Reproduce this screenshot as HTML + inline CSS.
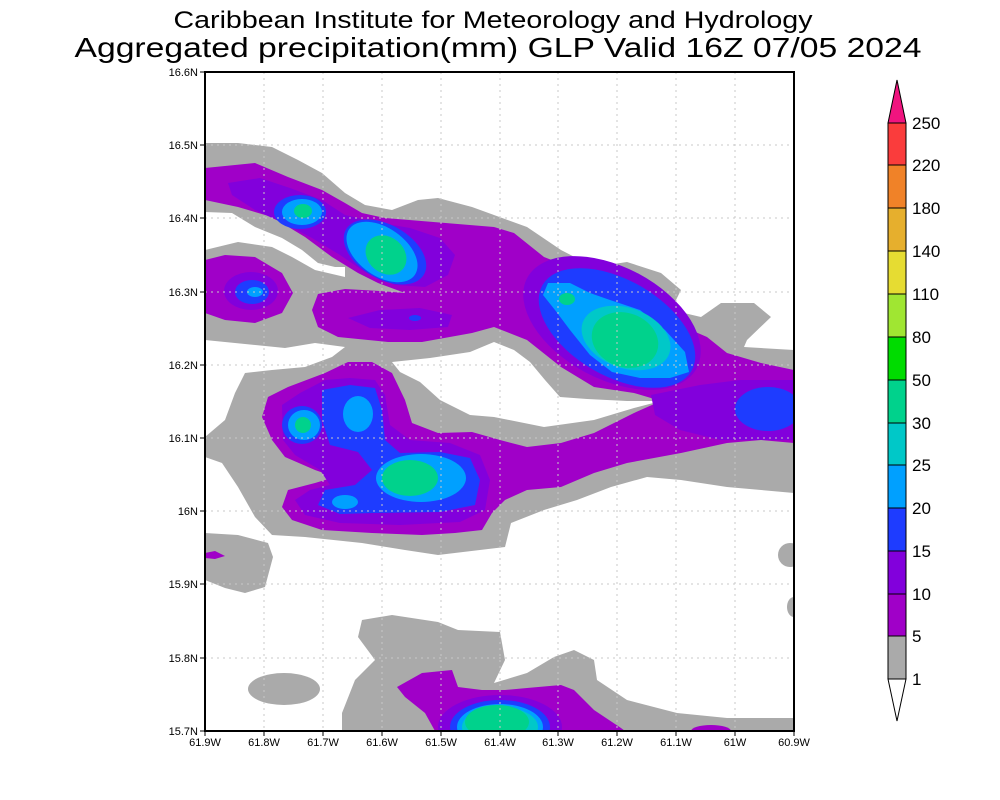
<!DOCTYPE html>
<html><head><meta charset="utf-8"><style>
html,body{margin:0;padding:0;background:#fff;}
svg{display:block;font-family:"Liberation Sans",sans-serif;}
</style></head><body>
<svg width="1000" height="800" viewBox="0 0 1000 800" xmlns="http://www.w3.org/2000/svg">
<defs><clipPath id="pc"><rect x="205" y="72" width="589" height="659"/></clipPath></defs>
<rect width="1000" height="800" fill="#fff"/>
<text x="493" y="28" font-size="24" text-anchor="middle" textLength="639" lengthAdjust="spacingAndGlyphs">Caribbean Institute for Meteorology and Hydrology</text>
<text x="498" y="57" font-size="28" text-anchor="middle" textLength="847" lengthAdjust="spacingAndGlyphs">Aggregated precipitation(mm) GLP Valid 16Z 07/05 2024</text>
<g clip-path="url(#pc)" stroke-linejoin="round">
<g fill="#aaaaaa">
<path d="M205,143 L238,143 272,147 298,160 322,173 345,193 365,205 392,210 418,200 438,198 472,207 494,215 527,227 561,250 594,267 627,262 661,273 681,290 671,310 701,317 721,303 754,303 771,317 747,340 744,347 794,350 794,493 761,490 727,487 681,480 647,477 611,487 577,500 544,510 511,523 505,547 438,555 405,550 362,543 305,537 272,535 255,517 238,487 222,463 205,457 Z"/>
<path d="M342,731 L342,713 355,680 375,660 358,637 362,620 392,615 438,622 458,630 500,632 505,660 494,683 527,673 554,657 574,650 594,660 597,680 627,700 677,713 727,718 794,718 794,731 Z"/>
<path d="M205,533 L238,535 268,543 273,557 265,587 245,593 225,588 205,580 Z"/>
<ellipse cx="284" cy="689" rx="36" ry="16"/>
<ellipse cx="790" cy="555" rx="12" ry="12"/>
<ellipse cx="794" cy="607" rx="7" ry="10"/>
</g>
<g fill="#fff">
<path d="M205,212 L232,213 255,227 282,238 302,250 318,263 335,267 345,267 345,277 315,270 292,257 272,247 238,242 205,250 Z"/>
<path d="M205,340 L285,348 315,343 345,347 332,357 305,367 272,370 245,373 235,393 225,420 205,437 Z"/>
<path d="M392,362 L430,358 470,352 494,342 514,350 530,362 545,380 560,397 587,399 627,401 661,401 634,408 594,420 544,427 494,417 470,415 440,400 420,382 400,372 Z"/>
</g>
<g fill="#a000c8">
<path d="M205,168 L255,163 288,177 322,190 345,203 362,213 385,218 494,227 514,233 544,257 577,270 617,287 644,297 667,317 684,327 707,337 727,353 761,363 794,370 794,443 761,440 727,443 681,453 627,463 594,473 561,487 527,490 505,500 492,513 482,530 455,533 422,535 372,533 322,530 292,520 282,507 288,490 315,483 335,477 315,470 285,457 272,440 262,417 268,397 288,387 325,373 348,362 372,362 392,373 405,400 412,423 438,433 472,432 500,440 527,447 561,443 594,433 634,413 661,401 634,393 594,387 561,367 527,340 494,327 472,333 422,342 388,342 338,337 318,327 312,310 318,294 345,289 380,291 405,293 378,283 358,273 332,257 305,237 272,217 238,207 205,200 Z"/>
<path d="M205,260 L225,255 255,257 282,273 293,293 282,313 255,323 225,320 205,313 Z"/>
<path d="M205,553 L215,551 225,556 215,559 205,558 Z"/>
<path d="M397,687 L422,673 452,670 458,687 482,690 505,690 527,688 561,685 574,690 594,710 621,728 625,731 435,731 425,713 405,697 Z"/>
<ellipse cx="711" cy="731" rx="20" ry="6"/>
</g>
<g fill="#8200dc">
<path d="M228,183 L260,178 290,188 322,200 345,215 375,222 410,228 440,238 455,255 448,275 425,287 395,285 365,272 340,255 312,238 285,224 255,210 232,195 Z"/>
<path d="M348,318 L380,310 420,308 452,315 448,327 410,330 370,328 Z"/>
<ellipse cx="251" cy="291" rx="27" ry="19"/>
<ellipse cx="612" cy="323" rx="96" ry="56" transform="rotate(28 612 323)"/>
<path d="M651,395 L700,385 740,380 794,380 794,440 760,440 720,440 680,430 655,415 Z"/>
<path d="M282,405 L300,393 325,380 350,378 375,380 385,395 390,425 410,440 450,443 480,455 490,480 485,510 460,522 400,525 340,523 305,515 295,500 310,490 330,485 320,470 295,455 283,440 Z"/>
<ellipse cx="500" cy="727" rx="62" ry="32"/>
</g>
<g fill="#1e3cff">
<ellipse cx="300" cy="212" rx="26" ry="17"/>
<ellipse cx="385" cy="252" rx="45" ry="27" transform="rotate(30 385 252)"/>
<ellipse cx="415" cy="318" rx="6" ry="3"/>
<ellipse cx="252" cy="292" rx="17" ry="12"/>
<ellipse cx="617" cy="328" rx="86" ry="48" transform="rotate(30 617 328)"/>
<ellipse cx="768" cy="409" rx="33" ry="22"/>
<ellipse cx="302" cy="425" rx="20" ry="19"/>
<path d="M322,390 L350,385 375,388 382,410 385,440 400,453 440,452 470,458 480,480 475,505 440,512 372,513 340,514 318,505 325,490 355,485 372,470 358,452 330,445 322,420 Z"/>
<ellipse cx="500" cy="727" rx="50" ry="27"/>
</g>
<g fill="#00a0ff">
<ellipse cx="302" cy="212" rx="20" ry="13"/>
<ellipse cx="382" cy="252" rx="40" ry="24" transform="rotate(35 382 252)"/>
<ellipse cx="255" cy="292" rx="8" ry="5"/>
<path d="M548,283 L570,283 590,293 610,300 640,310 665,330 685,352 689,372 670,378 640,378 612,372 590,355 570,330 555,310 543,295 Z"/>
<ellipse cx="304" cy="425" rx="16" ry="15"/>
<ellipse cx="358" cy="414" rx="15" ry="18"/>
<ellipse cx="421" cy="478" rx="45" ry="24"/>
<ellipse cx="345" cy="502" rx="13" ry="7"/>
<ellipse cx="500" cy="727" rx="43" ry="23"/>
</g>
<g fill="#00c8c8">
<ellipse cx="626" cy="338" rx="46" ry="30" transform="rotate(20 626 338)"/>
<ellipse cx="500" cy="727" rx="38" ry="20"/>
</g>
<g fill="#00d28c">
<ellipse cx="303" cy="211" rx="9" ry="7"/>
<ellipse cx="386" cy="255" rx="22" ry="18" transform="rotate(40 386 255)"/>
<ellipse cx="567" cy="299" rx="8" ry="6"/>
<ellipse cx="625" cy="340" rx="34" ry="27" transform="rotate(20 625 340)"/>
<ellipse cx="303" cy="425" rx="8" ry="8"/>
<ellipse cx="410" cy="478" rx="28" ry="18"/>
<ellipse cx="497" cy="722" rx="32" ry="17"/>
</g>
</g>
<g stroke="#c8c8c8" stroke-width="1" stroke-dasharray="2,4" fill="none">
<path d="M264,72V731M323,72V731M382,72V731M441,72V731M500,72V731M558,72V731M617,72V731M676,72V731M735,72V731"/>
<path d="M205,145H794M205,218H794M205,292H794M205,365H794M205,438H794M205,511H794M205,584H794M205,658H794"/>
</g>
<rect x="205" y="72" width="589" height="659" fill="none" stroke="#000" stroke-width="2"/>
<g stroke="#000" stroke-width="1">
<path d="M200,72H205M200,145H205M200,218H205M200,292H205M200,365H205M200,438H205M200,511H205M200,584H205M200,658H205M200,731H205"/>
<path d="M205,731V736M264,731V736M323,731V736M382,731V736M441,731V736M500,731V736M558,731V736M617,731V736M676,731V736M735,731V736M794,731V736"/>
</g>
<g font-size="11" text-anchor="end">
<text x="198" y="76">16.6N</text><text x="198" y="149">16.5N</text><text x="198" y="222">16.4N</text><text x="198" y="296">16.3N</text><text x="198" y="369">16.2N</text><text x="198" y="442">16.1N</text><text x="198" y="515">16N</text><text x="198" y="588">15.9N</text><text x="198" y="662">15.8N</text><text x="198" y="735">15.7N</text>
</g>
<g font-size="11" text-anchor="middle">
<text x="205" y="746">61.9W</text><text x="264" y="746">61.8W</text><text x="323" y="746">61.7W</text><text x="382" y="746">61.6W</text><text x="441" y="746">61.5W</text><text x="500" y="746">61.4W</text><text x="558" y="746">61.3W</text><text x="617" y="746">61.2W</text><text x="676" y="746">61.1W</text><text x="735" y="746">61W</text><text x="794" y="746">60.9W</text>
</g>
<g stroke="#000" stroke-width="1">
<polygon points="888,123 897,80 906,123" fill="#f0147f"/>
<rect x="888" y="123" width="18" height="42" fill="#fa3c3c"/>
<rect x="888" y="165" width="18" height="43" fill="#f08228"/>
<rect x="888" y="208" width="18" height="43" fill="#e6af2d"/>
<rect x="888" y="251" width="18" height="43" fill="#e6dc32"/>
<rect x="888" y="294" width="18" height="43" fill="#a0e632"/>
<rect x="888" y="337" width="18" height="43" fill="#00dc00"/>
<rect x="888" y="380" width="18" height="43" fill="#00d28c"/>
<rect x="888" y="423" width="18" height="42" fill="#00c8c8"/>
<rect x="888" y="465" width="18" height="43" fill="#00a0ff"/>
<rect x="888" y="508" width="18" height="43" fill="#1e3cff"/>
<rect x="888" y="551" width="18" height="43" fill="#8200dc"/>
<rect x="888" y="594" width="18" height="42" fill="#a000c8"/>
<rect x="888" y="636" width="18" height="43" fill="#aaaaaa"/>
<polygon points="888,679 897,721 906,679" fill="#fff"/>
</g>
<g font-size="17">
<text x="912" y="129">250</text><text x="912" y="171">220</text><text x="912" y="214">180</text><text x="912" y="257">140</text><text x="912" y="300">110</text><text x="912" y="343">80</text><text x="912" y="386">50</text><text x="912" y="429">30</text><text x="912" y="471">25</text><text x="912" y="514">20</text><text x="912" y="557">15</text><text x="912" y="600">10</text><text x="912" y="642">5</text><text x="912" y="685">1</text>
</g>
</svg>
</body></html>
